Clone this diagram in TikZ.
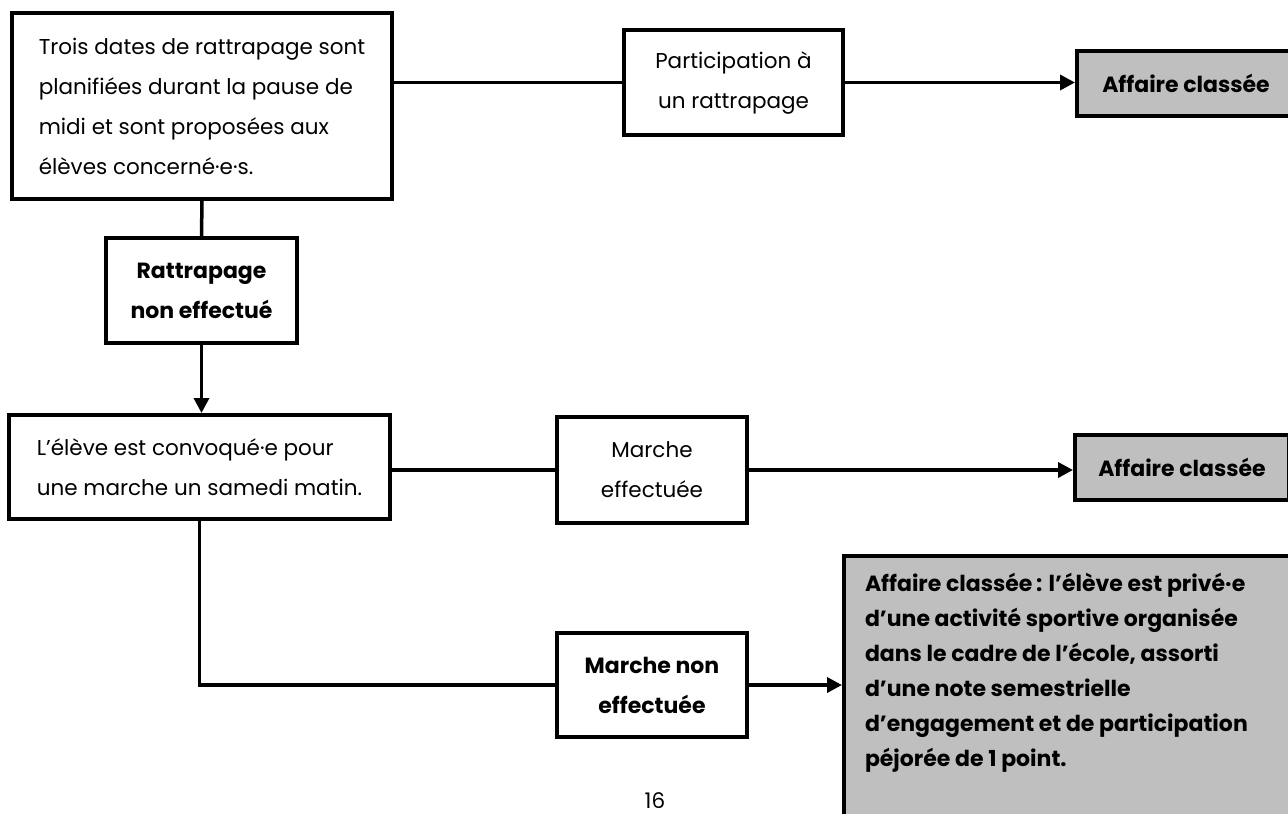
\documentclass[tikz,border=0pt]{standalone}
\usepackage{fontspec}
\setmainfont{Poppins}
\usetikzlibrary{arrows.meta}

\definecolor{closedgray}{RGB}{191,191,191}

\tikzset{
  box/.style={draw, line width=4pt, fill=white, inner sep=0pt, align=center,
    font=\fontsize{21.5}{40}\selectfont},
  boldbox/.style={box, font=\fontsize{22}{40}\selectfont\bfseries},
  closedbox/.style={boldbox, fill=closedgray},
  link/.style={line width=3.5pt},
  flow/.style={link, -{Triangle[length=15pt,width=15pt]}}
}

\begin{document}
\begin{tikzpicture}[x=1pt, y=-1pt]
  \useasboundingbox (0,0) rectangle (1288,814);

  % first row
  \node[box, minimum width=380pt, minimum height=186pt, align=left] (intro) at (202,106)
    {Trois dates de rattrapage sont\\planifiées durant la pause de\\midi et sont proposées aux\\élèves concerné·e·s.};
  \node[box, minimum width=219pt, minimum height=105pt] (partic) at (733.5,82.5) {Participation à\\un rattrapage};
  \node[closedbox, minimum width=218pt, minimum height=65pt] (closedA) at (1186,83.5) {Affaire classée};

  \node[boldbox, minimum width=191pt, minimum height=105pt] (catchup) at (201.5,290.5) {Rattrapage\\non effectué};

  % second row
  \node[box, minimum width=381pt, minimum height=104pt, align=left] (convoc) at (199.5,467)
    {L'élève est convoqué·e pour\\une marche un samedi matin.};
  \node[box, minimum width=190pt, minimum height=106pt] (walked) at (652,470) {Marche\\effectuée};
  \node[closedbox, minimum width=214pt, minimum height=65pt] (closedB) at (1182,467.5) {Affaire classée};

  % third row
  \node[boldbox, minimum width=190pt, minimum height=104pt] (notwalked) at (652,685) {Marche non\\effectuée};
  \node[closedbox, anchor=north west, inner xsep=21pt, inner ysep=17pt] (sanction) at (842,554)
    {\parbox[t][275pt][t]{420pt}{\fontsize{22}{35}\selectfont\raggedright
      Affaire classée\,: l'élève est privé·e\\
      d'une activité sportive organisée\\
      dans le cadre de l'école, assorti\\
      d'une note semestrielle\\
      d'engagement et de participation\\
      péjorée de 1 point.}};

  \node[font=\fontsize{21.5}{24}\selectfont] (pagenum) at (655,801) {16};

  % connectors
  \draw[link] (partic.west -| intro.east) -- (partic.west);
  \draw[flow] (partic.east) -- (partic.east -| closedA.west);
  \draw[link] (intro.south) -- (catchup.north);
  \draw[flow] (catchup.south) -- (catchup.south |- convoc.north);
  \draw[link] (walked.west -| convoc.east) -- (walked.west);
  \draw[flow] (walked.east) -- (walked.east -| closedB.west);
  \draw[link] (convoc.south) |- (notwalked.west);
  \draw[flow] (notwalked.east) -- (notwalked.east -| sanction.west);
\end{tikzpicture}
\end{document}
